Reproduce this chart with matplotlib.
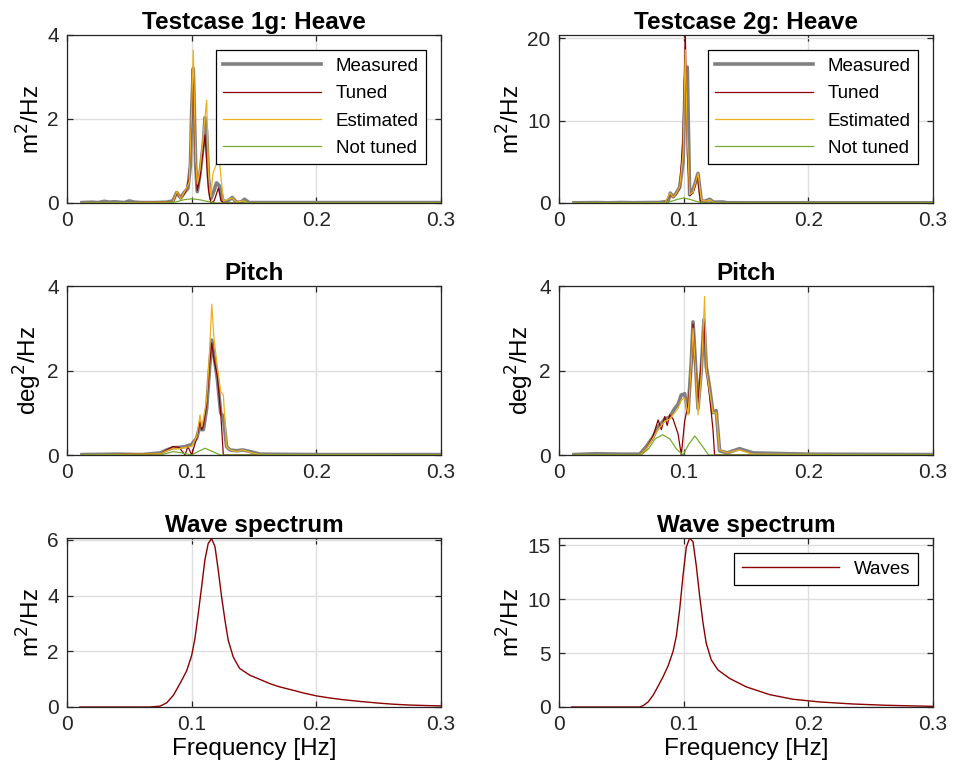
import numpy as np
import matplotlib.pyplot as plt

# ---------------------------------------------------------------------------
#  data (frequency in Hz, spectral density)
# ---------------------------------------------------------------------------
# Testcase 1g: heave
h1_meas_f = [0.012, 0.02, 0.025, 0.03, 0.034, 0.038, 0.042, 0.046, 0.05, 0.054, 0.06, 0.07, 0.08,
             0.085, 0.088, 0.0912, 0.094, 0.097, 0.099, 0.1, 0.1013, 0.1032, 0.1045, 0.1067, 0.1094,
             0.1107, 0.112, 0.1135, 0.1154, 0.118, 0.12, 0.1225, 0.1251, 0.128, 0.1326, 0.1358,
             0.1395, 0.1424, 0.146, 0.15, 0.2, 0.3]
h1_meas_v = [0.01, 0.02, 0.01, 0.04, 0.02, 0.03, 0.02, 0.01, 0.05, 0.02, 0.01, 0.01, 0.02,
             0.05, 0.25, 0.12, 0.25, 0.35, 0.9, 2.2, 3.2, 0.9, 0.27, 0.7, 1.43,
             2.03, 1.7, 0.6, 0.1, 0.3, 0.48, 0.4, 0.05, 0.03, 0.13, 0.02,
             0.02, 0.09, 0.01, 0.01, 0.01, 0.01]
h1_tun_f = [0.012, 0.085, 0.088, 0.0912, 0.095, 0.098, 0.1, 0.1013, 0.1032, 0.1045, 0.1067, 0.109,
            0.1107, 0.112, 0.1135, 0.1154, 0.118, 0.1215, 0.1235, 0.126, 0.3]
h1_tun_v = [0.0, 0.02, 0.25, 0.1, 0.25, 0.6, 2.0, 3.25, 0.9, 0.3, 0.6, 1.2,
            1.62, 1.0, 0.3, 0.0, 0.05, 0.36, 0.05, 0.0, 0.0]
h1_est_f = [0.012, 0.085, 0.088, 0.0912, 0.095, 0.098, 0.1, 0.1013, 0.1032, 0.1045, 0.1067, 0.109,
            0.112, 0.1135, 0.1154, 0.117, 0.1195, 0.1219, 0.1235, 0.1255, 0.1326, 0.136, 0.142,
            0.145, 0.3]
h1_est_v = [0.0, 0.02, 0.27, 0.1, 0.3, 0.5, 2.2, 3.64, 1.0, 0.45, 0.8, 1.5,
            2.45, 0.7, 0.15, 0.7, 0.9, 1.18, 0.6, 0.05, 0.12, 0.02, 0.05,
            0.0, 0.0]
h1_not_f = [0.012, 0.08, 0.088, 0.094, 0.1, 0.106, 0.112, 0.12, 0.3]
h1_not_v = [0.0, 0.0, 0.03, 0.08, 0.1, 0.08, 0.04, 0.0, 0.0]

# Testcase 2g: heave
h2_meas_f = [0.012, 0.03, 0.04, 0.05, 0.06, 0.07, 0.08, 0.0875, 0.0893, 0.0915, 0.0936, 0.0968,
             0.0995, 0.1013, 0.1029, 0.1048, 0.1062, 0.1075, 0.109, 0.1115, 0.1141, 0.117, 0.1208,
             0.124, 0.1315, 0.135, 0.15, 0.3]
h2_meas_v = [0.02, 0.05, 0.02, 0.06, 0.03, 0.05, 0.06, 0.2, 1.2, 0.75, 1.1, 1.9,
             5.0, 15.0, 16.5, 1.0, 1.4, 1.6, 2.3, 3.6, 0.3, 0.2, 0.45,
             0.1, 0.12, 0.03, 0.02, 0.02]
h2_tun_f = [0.012, 0.085, 0.0893, 0.0915, 0.0936, 0.0968, 0.0995, 0.1013, 0.1029, 0.1048, 0.1075,
            0.109, 0.1111, 0.1135, 0.3]
h2_tun_v = [0.0, 0.05, 1.1, 0.7, 1.0, 1.8, 8.0, 21.0, 6.0, 0.9, 1.2,
            2.0, 3.4, 0.0, 0.0]
h2_est_f = [0.012, 0.085, 0.0893, 0.0915, 0.0936, 0.0968, 0.0995, 0.1013, 0.1029, 0.1048, 0.1075,
            0.109, 0.1115, 0.1141, 0.118, 0.1208, 0.124, 0.13, 0.3]
h2_est_v = [0.0, 0.05, 1.2, 0.7, 1.05, 1.9, 6.0, 18.6, 8.0, 1.0, 1.3,
            2.2, 3.6, 0.4, 0.2, 0.4, 0.05, 0.0, 0.0]
h2_not_f = [0.012, 0.083, 0.09, 0.095, 0.1, 0.105, 0.11, 0.117, 0.3]
h2_not_v = [0.0, 0.0, 0.2, 0.45, 0.6, 0.45, 0.2, 0.0, 0.0]

# Testcase 1g: pitch
p1_meas_f = [0.012, 0.04, 0.06, 0.075, 0.08, 0.085, 0.09, 0.095, 0.1, 0.104, 0.1067, 0.108,
             0.1094, 0.112, 0.1142, 0.1161, 0.118, 0.1206, 0.1233, 0.1254, 0.128, 0.1307,
             0.136, 0.141, 0.147, 0.155, 0.2, 0.3]
p1_meas_v = [0.01, 0.02, 0.01, 0.05, 0.12, 0.17, 0.18, 0.2, 0.25, 0.4, 0.7, 0.6,
             0.6, 1.1, 2.0, 2.72, 2.33, 1.8, 0.99, 0.91, 0.2, 0.12,
             0.1, 0.12, 0.08, 0.02, 0.01, 0.01]
p1_tun_f = [0.012, 0.075, 0.08, 0.085, 0.09, 0.0946, 0.097, 0.1, 0.104, 0.1067, 0.108, 0.1094,
            0.112, 0.1142, 0.1161, 0.118, 0.1206, 0.1233, 0.1254, 0.3]
p1_tun_v = [0.0, 0.03, 0.12, 0.2, 0.18, 0.0, 0.2, 0.0, 0.4, 0.8, 0.6, 0.7,
            1.2, 2.1, 2.65, 2.25, 1.86, 0.99, 0.0, 0.0]
p1_est_f = [0.012, 0.075, 0.08, 0.085, 0.09, 0.095, 0.1, 0.104, 0.1067, 0.108, 0.1094, 0.112,
            0.1142, 0.1161, 0.118, 0.1206, 0.1233, 0.1254, 0.128, 0.1307, 0.136, 0.141, 0.147,
            0.155, 0.3]
p1_est_v = [0.0, 0.03, 0.1, 0.15, 0.15, 0.18, 0.2, 0.43, 0.95, 0.67, 0.85, 1.3,
            2.33, 3.57, 2.72, 2.1, 1.5, 1.42, 0.2, 0.12, 0.08, 0.12, 0.06,
            0.01, 0.0]
p1_not_f = [0.012, 0.075, 0.08, 0.0853, 0.092, 0.1, 0.105, 0.1107, 0.117, 0.123, 0.3]
p1_not_v = [0.0, 0.0, 0.04, 0.08, 0.05, 0.0, 0.08, 0.16, 0.08, 0.0, 0.0]

# Testcase 2g: pitch
p2_meas_f = [0.012, 0.03, 0.05, 0.0648, 0.0701, 0.0755, 0.0795, 0.0821, 0.0848, 0.0888, 0.0928,
             0.0955, 0.0981, 0.1008, 0.1035, 0.1061, 0.1075, 0.1096, 0.1115, 0.1141, 0.1163,
             0.1181, 0.1208, 0.1235, 0.1261, 0.1288, 0.135, 0.1448, 0.1555, 0.2, 0.3]
p2_meas_v = [0.01, 0.03, 0.02, 0.02, 0.2, 0.43, 0.67, 0.75, 0.85, 0.9, 1.1,
             1.2, 1.42, 1.45, 1.0, 2.2, 3.15, 2.1, 1.1, 2.0, 3.2,
             2.1, 1.6, 1.0, 1.05, 0.1, 0.05, 0.15, 0.05, 0.02, 0.01]
p2_tun_f = [0.012, 0.0648, 0.0701, 0.0755, 0.0795, 0.0821, 0.0848, 0.0868, 0.0888, 0.0915, 0.0955,
            0.0981, 0.1008, 0.1035, 0.1061, 0.1075, 0.1096, 0.1115, 0.1141, 0.1163, 0.1181,
            0.1208, 0.1235, 0.1248, 0.3]
p2_tun_v = [0.0, 0.0, 0.15, 0.45, 0.83, 0.6, 0.91, 0.7, 0.95, 0.85, 0.5,
            0.0, 0.8, 1.2, 2.0, 3.1, 2.0, 1.2, 2.2, 3.15, 2.1,
            1.4, 0.6, 0.0, 0.0]
p2_est_f = [0.012, 0.0648, 0.0701, 0.0755, 0.0795, 0.0821, 0.0848, 0.0888, 0.0928, 0.0955, 0.0981,
            0.1008, 0.1035, 0.1061, 0.1075, 0.1096, 0.1115, 0.1141, 0.1168, 0.1181, 0.1208,
            0.1235, 0.1261, 0.1288, 0.135, 0.1448, 0.1555, 0.3]
p2_est_v = [0.0, 0.0, 0.15, 0.4, 0.6, 0.7, 0.8, 0.85, 1.0, 1.1, 1.3,
            1.35, 0.95, 2.1, 3.0, 2.0, 0.95, 1.9, 3.75, 2.05, 1.5,
            1.0, 1.0, 0.12, 0.05, 0.12, 0.02, 0.0]
p2_not_f = [0.012, 0.066, 0.072, 0.077, 0.083, 0.089, 0.094, 0.0995, 0.104, 0.109, 0.114, 0.12, 0.3]
p2_not_v = [0.0, 0.0, 0.15, 0.38, 0.48, 0.38, 0.15, 0.0, 0.25, 0.45, 0.25, 0.0, 0.0]

# Wave spectra
w1_f = [0.0104, 0.06, 0.0666, 0.0746, 0.08, 0.0853, 0.0906, 0.096, 0.1, 0.1026, 0.1053, 0.108,
        0.1106, 0.1133, 0.116, 0.1187, 0.1213, 0.124, 0.1267, 0.1293, 0.1333, 0.137, 0.1386,
        0.1467, 0.1548, 0.1627, 0.17, 0.1815, 0.19, 0.2, 0.21, 0.22, 0.235, 0.25, 0.2617,
        0.275, 0.29, 0.3]
w1_v = [0.0, 0.0, 0.0, 0.03, 0.15, 0.42, 0.84, 1.3, 1.85, 2.45, 3.36, 4.32,
        5.28, 5.88, 6.05, 5.76, 4.92, 3.96, 3.12, 2.4, 1.8, 1.5, 1.38,
        1.14, 0.99, 0.84, 0.73, 0.6, 0.5, 0.4, 0.33, 0.27, 0.2, 0.14, 0.1,
        0.07, 0.05, 0.04]
w2_f = [0.0101, 0.0648, 0.0675, 0.0715, 0.0755, 0.0795, 0.0835, 0.0875, 0.0915, 0.0941, 0.0968,
        0.0995, 0.1021, 0.1048, 0.1075, 0.1101, 0.1128, 0.1155, 0.1181, 0.1221, 0.1275,
        0.1368, 0.1501, 0.1688, 0.1875, 0.2088, 0.2355, 0.2621, 0.2995]
w2_v = [0.0, 0.0, 0.12, 0.47, 1.09, 1.93, 2.81, 3.8, 5.15, 6.55, 9.04,
        12.2, 14.8, 15.65, 15.3, 13.1, 10.3, 7.8, 5.9, 4.37, 3.43,
        2.65, 1.87, 1.15, 0.72, 0.47, 0.28, 0.16, 0.06]

C_MEAS = (0.5, 0.5, 0.5)
C_TUN = (0.55, 0.0, 0.0)
C_EST = "#EDB120"
C_NOT = "#77AC30"

plt.rcParams.update({"font.family": "Liberation Sans", "font.size": 15,
                     "axes.edgecolor": (0.15, 0.15, 0.15), "axes.linewidth": 0.9,
                     "xtick.color": (0.15, 0.15, 0.15), "ytick.color": (0.15, 0.15, 0.15),
                     "xtick.direction": "in", "ytick.direction": "in",
                     "xtick.top": True, "ytick.right": True,
                     "xtick.major.size": 4, "ytick.major.size": 4,
                     "xtick.major.width": 0.9, "ytick.major.width": 0.9,
                     "xtick.major.pad": 6, "ytick.major.pad": 6})

fig = plt.figure(figsize=(9.55, 7.8), dpi=100)
W, H = 955, 780
lefts = [67, 559]
width = 374
rows = [(35, 203), (286, 455), (538, 707)]
axs = [[fig.add_axes([l / W, 1 - b / H, width / W, (b - t) / H]) for l in lefts] for t, b in rows]


def style(ax, ymax, yticks, ylabel, title):
    ax.set_xlim(0, 0.3)
    ax.set_ylim(0, ymax)
    ax.set_xticks([0, 0.1, 0.2, 0.3])
    ax.set_xticklabels(["0", "0.1", "0.2", "0.3"])
    ax.set_yticks(yticks)
    ax.grid(True, color=(0.87, 0.87, 0.87), lw=1.0)
    ax.set_axisbelow(True)
    ax.set_ylabel(ylabel, fontsize=17.5, labelpad=2)
    ax.set_title(title, fontsize=17.5, weight="bold", pad=4)


def motion(ax, mf, mv, tf, tv, ef, ev, nf, nv, legend=False):
    ax.plot(mf, mv, color=C_MEAS, lw=2.6, label="Measured")
    ax.plot(tf, tv, color=C_TUN, lw=0.9, label="Tuned")
    ax.plot(ef, ev, color=C_EST, lw=0.9, label="Estimated")
    ax.plot(nf, nv, color=C_NOT, lw=0.9, label="Not tuned")
    if legend:
        lg = ax.legend(loc="upper right", fontsize=13.5, handlelength=5.2, fancybox=False,
                       framealpha=1, edgecolor="black", borderaxespad=0.8, labelspacing=0.55)
        lg.get_frame().set_linewidth(0.9)


motion(axs[0][0], h1_meas_f, h1_meas_v, h1_tun_f, h1_tun_v, h1_est_f, h1_est_v, h1_not_f, h1_not_v, True)
style(axs[0][0], 4, [0, 2, 4], "m$^2$/Hz", "Testcase 1g: Heave")
motion(axs[0][1], h2_meas_f, h2_meas_v, h2_tun_f, h2_tun_v, h2_est_f, h2_est_v, h2_not_f, h2_not_v, True)
style(axs[0][1], 20.4, [0, 10, 20], "m$^2$/Hz", "Testcase 2g: Heave")

motion(axs[1][0], p1_meas_f, p1_meas_v, p1_tun_f, p1_tun_v, p1_est_f, p1_est_v, p1_not_f, p1_not_v)
style(axs[1][0], 4, [0, 2, 4], "deg$^2$/Hz", "Pitch")
motion(axs[1][1], p2_meas_f, p2_meas_v, p2_tun_f, p2_tun_v, p2_est_f, p2_est_v, p2_not_f, p2_not_v)
style(axs[1][1], 4, [0, 2, 4], "deg$^2$/Hz", "Pitch")

axs[2][0].plot(w1_f, w1_v, color=C_TUN, lw=1.0, label="Waves")
style(axs[2][0], 6.07, [0, 2, 4, 6], "m$^2$/Hz", "Wave spectrum")
axs[2][1].plot(w2_f, w2_v, color=C_TUN, lw=1.0, label="Waves")
style(axs[2][1], 15.65, [0, 5, 10, 15], "m$^2$/Hz", "Wave spectrum")
lg = axs[2][1].legend(loc="upper right", fontsize=13.5, handlelength=5.2, fancybox=False,
                      framealpha=1, edgecolor="black", borderaxespad=0.8)
lg.get_frame().set_linewidth(0.9)
for ax in axs[2]:
    ax.set_xlabel("Frequency [Hz]", fontsize=17.5, labelpad=3)

fig.savefig("out.png", dpi=100)
